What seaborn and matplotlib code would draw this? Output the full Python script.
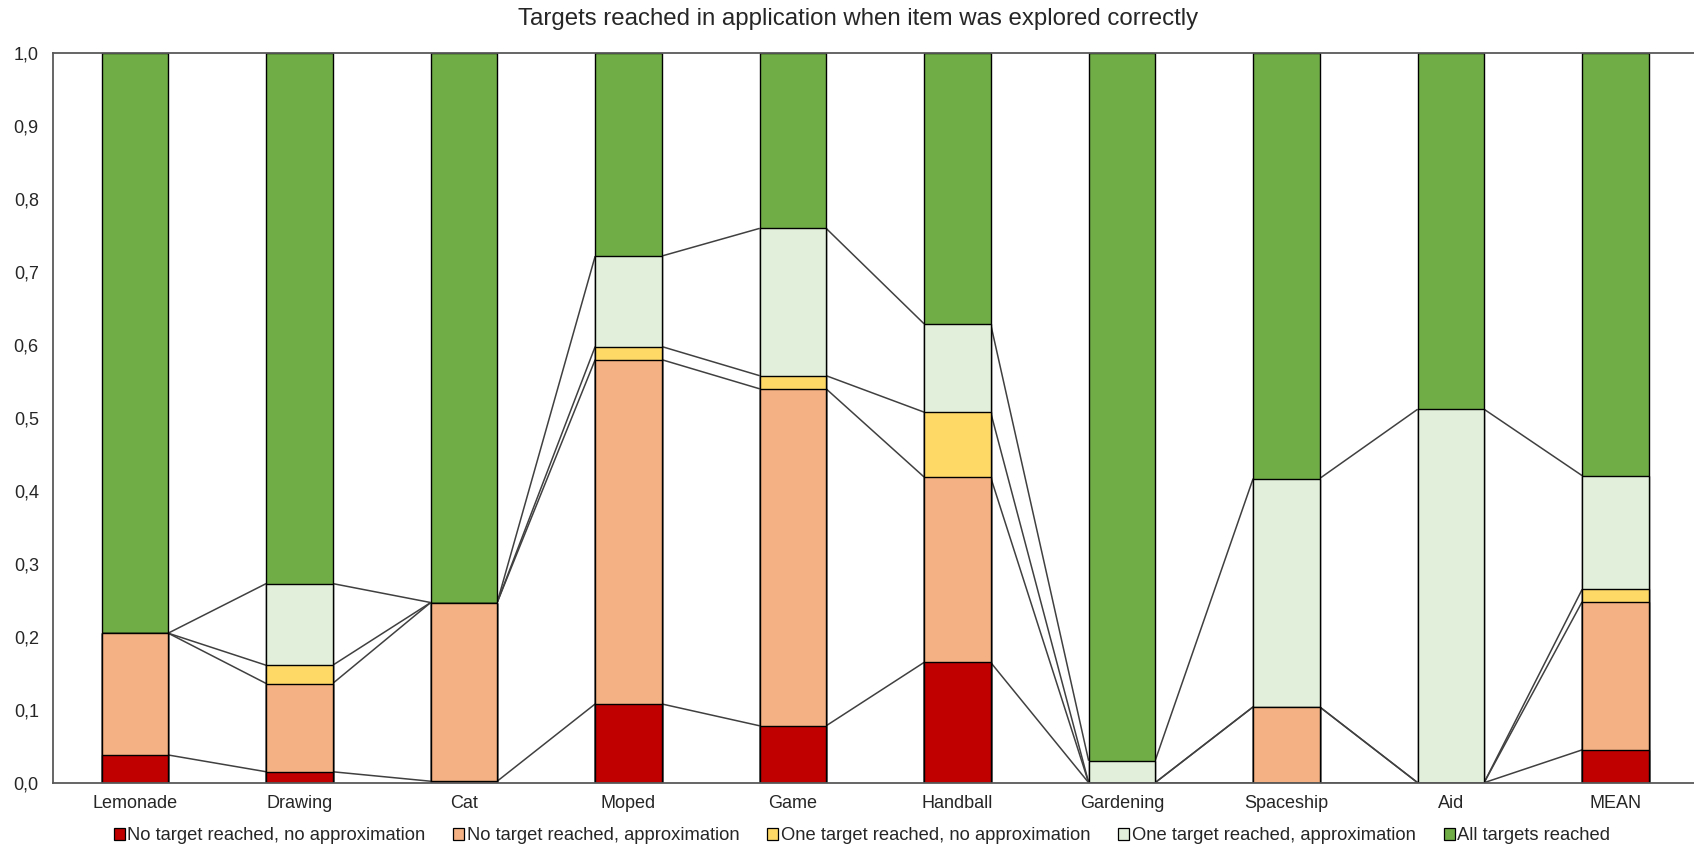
import matplotlib
matplotlib.use("Agg")
import matplotlib.pyplot as plt
import numpy as np
import pandas as pd
import seaborn as sns
from matplotlib.patches import Patch
from matplotlib.ticker import FuncFormatter

# Share of each outcome per application item (each column sums to 1)
items = ["Lemonade", "Drawing", "Cat", "Moped", "Game", "Handball",
         "Gardening", "Spaceship", "Aid", "MEAN"]
no_target_no_approx = [0.038, 0.015, 0.002, 0.108, 0.078, 0.165, 0.000, 0.000, 0.000, 0.045]
no_target_approx = [0.167, 0.121, 0.245, 0.472, 0.462, 0.254, 0.000, 0.104, 0.000, 0.203]
one_target_no_approx = [0.000, 0.025, 0.000, 0.018, 0.018, 0.089, 0.000, 0.000, 0.000, 0.017]
one_target_approx = [0.000, 0.112, 0.000, 0.124, 0.202, 0.121, 0.030, 0.313, 0.512, 0.156]

series_names = ["No target reached, no approximation",
                "No target reached, approximation",
                "One target reached, no approximation",
                "One target reached, approximation",
                "All targets reached"]
series_colors = ["#C00000", "#F4B183", "#FFD966", "#E2EFDA", "#70AD47"]

title = "Targets reached in application when item was explored correctly"

# Build the stacked layers; the last layer fills up to 1
lower = np.array([no_target_no_approx, no_target_approx,
                  one_target_no_approx, one_target_approx])
all_targets = 1.0 - lower.sum(axis=0)
layers = np.vstack([lower, all_targets])
cumulative = np.cumsum(layers, axis=0)

sns.set_theme(style="white")
plt.rcParams["font.family"] = ["Liberation Sans", "DejaVu Sans"]
text_color = "#262626"

fig = plt.figure(figsize=(16.94, 8.51), dpi=100)
ax = fig.add_axes([52.7 / 1694, 1 - 782.7 / 851,
                   (1697.6 - 52.7) / 1694, (782.7 - 53.3) / 851])

bar_width = 0.404
# Draw cumulative tops from the highest layer down so each stack shows every segment
for k in range(len(series_names) - 1, -1, -1):
    df = pd.DataFrame({"item": items, "value": cumulative[k]})
    sns.barplot(data=df, x="item", y="value", order=items, color=series_colors[k],
                saturation=1, width=bar_width, edgecolor="black", linewidth=1.0,
                errorbar=None, ax=ax, zorder=2)

# Series lines linking the top of each segment between neighbouring bars
half = bar_width / 2
for k in range(len(series_names) - 1):
    for i in range(len(items) - 1):
        ax.plot([i + half, i + 1 - half], [cumulative[k][i], cumulative[k][i + 1]],
                color="#404040", lw=1.1, zorder=1, solid_capstyle="butt")

ax.set_xlim(-0.5, 9.5)
ax.set_ylim(0, 1.0)
ax.set_yticks(np.arange(0, 1.01, 0.1))
ax.yaxis.set_major_formatter(FuncFormatter(lambda v, p: f"{v:.1f}".replace(".", ",")))
ax.set_xlabel("")
ax.set_ylabel("")
ax.tick_params(axis="both", length=0, labelsize=13, colors=text_color)
ax.tick_params(axis="y", pad=10)
ax.tick_params(axis="x", pad=9)
ax.grid(False)

for side in ["left", "top", "bottom"]:
    ax.spines[side].set_visible(True)
    ax.spines[side].set_color("#595959")
    ax.spines[side].set_linewidth(1.3)
ax.spines["right"].set_visible(False)

fig.text(858.5 / 1694, 1 - 19 / 851, title, ha="center", va="center",
         fontsize=17.3, color=text_color)

handles = [Patch(facecolor=c, edgecolor="black", linewidth=0.9) for c in series_colors]
fig.legend(handles, series_names, loc="center", ncol=5,
           bbox_to_anchor=(862 / 1694, 1 - 836 / 851), frameon=False,
           fontsize=13.25, handlelength=0.6, handleheight=0.6, handletextpad=0.15,
           columnspacing=1.5, labelcolor=text_color)

fig.savefig("out.png", dpi=100)
